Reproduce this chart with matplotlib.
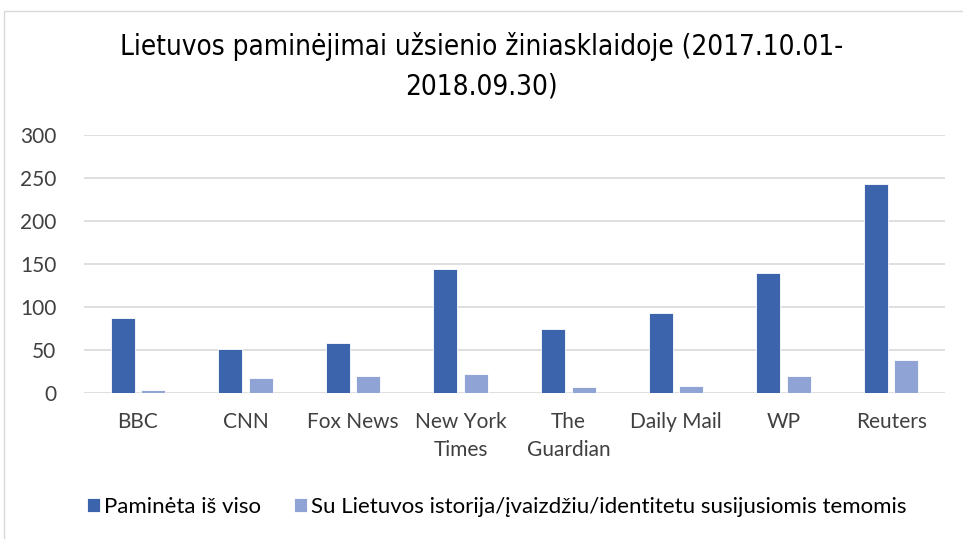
import numpy as np
import matplotlib.pyplot as plt
from matplotlib.patches import Rectangle

# ================================================
# DATA
# ================================================
categories = ['BBC', 'CNN', 'Fox News', 'New York\nTimes', 'The\nGuardian',
              'Daily Mail', 'WP', 'Reuters']
total      = [87, 51, 58, 144, 74, 93, 139, 243]
related    = [4, 18, 20, 22, 7, 8, 20, 38]
labels     = ['Paminėta iš viso',
              'Su Lietuvos istorija/įvaizdžiu/identitetu susijusiomis temomis']
title      = 'Lietuvos paminėjimai užsienio žiniasklaidoje (2017.10.01-\n2018.09.30)'
# ================================================

plt.rcParams['font.family'] = ['Lato', 'DejaVu Sans']

fig = plt.figure(figsize=(9.63, 5.39), dpi=100)
ax = fig.add_axes([84/963, 1 - 393/539, (945 - 84)/963, (393 - 135)/539])

x = np.arange(len(categories))
w = 0.223
off = 0.142
ax.bar(x - off, total, w, color='#3C64AC', edgecolor='white', lw=0.6, label=labels[0], zorder=3)
ax.bar(x + off, related, w, color='#8FA3D4', edgecolor='white', lw=0.6, label=labels[1], zorder=3)

ax.set_xlim(-0.5, len(categories) - 0.5)
ax.set_ylim(0, 300)
ax.set_yticks(np.arange(0, 301, 50))
ax.grid(axis='y', color='#D9D9D9', lw=1.2, zorder=0)
for s in ax.spines.values():
    s.set_visible(False)
ax.tick_params(axis='both', length=0, labelsize=15, colors='#404040')
ax.tick_params(axis='x', pad=14)
ax.tick_params(axis='y', pad=20)
ax.set_xticks(x)
ax.set_xticklabels(categories, linespacing=1.45)

fig.text(0.5, 1 - 66/539, title, ha='center', va='center', fontsize=20,
         fontstretch='condensed', color='black', linespacing=1.5,
         family=['DejaVu Sans'])

fig.legend(loc='center', bbox_to_anchor=(0.516, 1 - 507/539), ncol=2,
           frameon=False, fontsize=16, handlelength=0.55, handleheight=0.6,
           handletextpad=0.2, columnspacing=1.5, labelcolor='#000000')

fig.patches.append(Rectangle((4/963, -0.01), 1.1, 1 - 11/539 + 0.01, transform=fig.transFigure,
                             fill=False, ec='#D9D9D9', lw=1.0))

plt.savefig('out.png', dpi=100)
plt.close()
